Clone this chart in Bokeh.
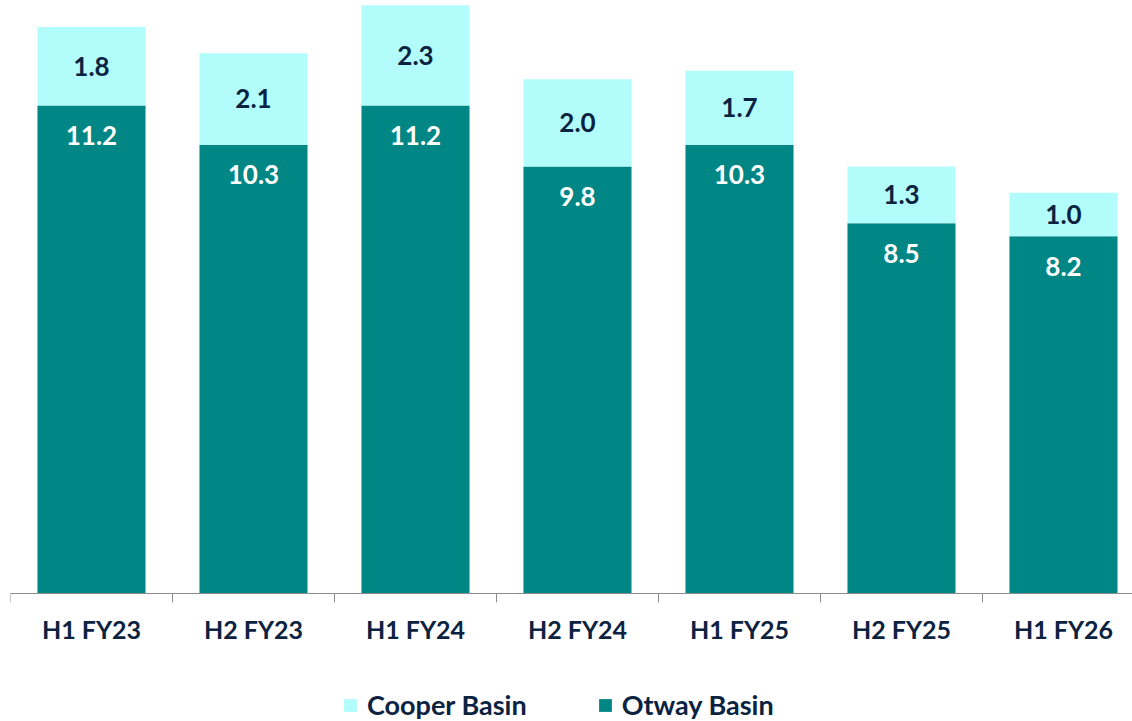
from bokeh.plotting import figure
from bokeh.models import (ColumnDataSource, Range1d, FixedTicker, Legend, LegendItem,
                          LabelSet)
from bokeh.core.properties import value
from bokeh.embed import file_html
from bokeh.resources import INLINE

categories = ["H1 FY23", "H2 FY23", "H1 FY24", "H2 FY24", "H1 FY25", "H2 FY25", "H1 FY26"]
otway = [11.2, 10.3, 11.2, 9.8, 10.3, 8.5, 8.2]
cooper = [1.8, 2.1, 2.3, 2.0, 1.7, 1.3, 1.0]

TEAL = "#008684"
CYAN = "#B3FCFC"
NAVY = "#0B2341"
FONT = "Lato"

xs = list(range(len(categories)))
src = ColumnDataSource(dict(
    x=xs,
    otway=otway,
    cooper=cooper,
    top=[o + c for o, c in zip(otway, cooper)],
    cmid=[o + c / 2 for o, c in zip(otway, cooper)],
    otxt=[f"{v:.1f}" for v in otway],
    ctxt=[f"{v:.1f}" for v in cooper],
))

PX = 43.57  # pixels per unit
p = figure(frame_width=1122, frame_height=721, output_backend="svg", toolbar_location=None,
           x_range=Range1d(-0.5, -0.5 + 1122 / 162),
           y_range=Range1d(-(721 - 593) / PX, 593 / PX),
           min_border_left=10, min_border_right=0, min_border_top=0, min_border_bottom=0)
p.outline_line_color = None
p.grid.visible = False
p.yaxis.visible = False

r_ot = p.vbar(x="x", bottom=0, top="otway", width=0.667, source=src,
              fill_color=TEAL, line_color=None)
r_co = p.vbar(x="x", bottom="otway", top="top", width=0.667, source=src,
              fill_color=CYAN, line_color=None)

p.add_layout(LabelSet(x="x", y="otway", text="otxt", source=src, y_offset=-30,
                      text_align="center", text_baseline="middle",
                      text_font=value(FONT), text_font_style="bold", text_font_size="26px",
                      text_color="white"))
p.add_layout(LabelSet(x="x", y="cmid", text="ctxt", source=src,
                      text_align="center", text_baseline="middle",
                      text_font=value(FONT), text_font_style="bold", text_font_size="26px",
                      text_color=NAVY))

ax = p.xaxis[0]
ax.fixed_location = 0
ax.ticker = FixedTicker(ticks=xs, minor_ticks=[i - 0.5 for i in range(len(categories) + 1)])
ax.major_label_overrides = {i: c for i, c in enumerate(categories)}
ax.major_tick_out = 0
ax.major_tick_in = 0
ax.minor_tick_out = 9
ax.minor_tick_in = 0
ax.axis_line_color = "#8C8C8C"
ax.minor_tick_line_color = "#8C8C8C"
ax.axis_line_width = 1.2
ax.major_label_standoff = 11
ax.major_label_text_font = FONT
ax.major_label_text_font_style = "bold"
ax.major_label_text_font_size = "25px"
ax.major_label_text_color = NAVY

legend = Legend(items=[LegendItem(label="Cooper Basin", renderers=[r_co]),
                       LegendItem(label="Otway Basin", renderers=[r_ot])],
                orientation="horizontal", location=(332, 0),
                glyph_width=16, glyph_height=16, label_standoff=9, spacing=70,
                label_text_font=FONT, label_text_font_style="bold",
                label_text_font_size="27px", label_text_color=NAVY,
                border_line_color=None, background_fill_alpha=0,
                margin=0, padding=0)
p.add_layout(legend, "center")

open("out.html", "w").write(file_html(p, INLINE))
